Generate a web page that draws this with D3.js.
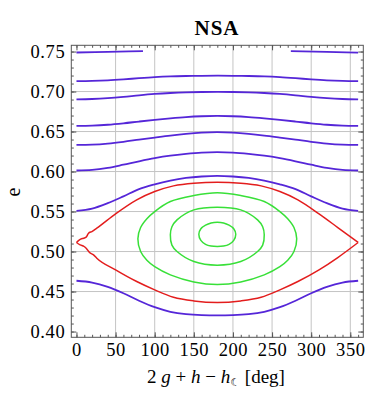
<!DOCTYPE html>
<html>
<head>
<meta charset="utf-8">
<script src="https://cdn.jsdelivr.net/npm/d3@7"></script>
<style>
  body { margin: 0; background: #fff; }
  text { font-family: "Liberation Serif", "DejaVu Serif", serif; fill: #000; }
</style>
</head>
<body>
<div class="graph"></div>
<script>
// Tick values
var xMajor = [0, 50, 100, 150, 200, 250, 300, 350];
var yMajor = [0.40, 0.45, 0.50, 0.55, 0.60, 0.65, 0.70, 0.75];
var xMinor = d3.range(0, 361, 10);
var yMinor = d3.range(40, 76, 1).map(function(d) { return d / 100; });

// Open contours sampled every 20 deg (0..360)
var openDeg = [0, 20, 40, 60, 80, 100, 120, 140, 160, 180, 200, 220, 240, 260, 280, 300, 320, 340, 360];
var purple2 = [0.7130, 0.7133, 0.7140, 0.7152, 0.7167, 0.7180, 0.7189, 0.7194, 0.7197, 0.7198, 0.7197, 0.7194, 0.7189, 0.7180, 0.7167, 0.7152, 0.7140, 0.7133, 0.7130];
var purple3 = [0.6903, 0.6907, 0.6917, 0.6933, 0.6953, 0.6970, 0.6982, 0.6990, 0.6994, 0.6995, 0.6994, 0.6990, 0.6982, 0.6970, 0.6953, 0.6933, 0.6917, 0.6907, 0.6903];
var purple4 = [0.6570, 0.6574, 0.6585, 0.6603, 0.6625, 0.6646, 0.6665, 0.6681, 0.6691, 0.6695, 0.6691, 0.6681, 0.6665, 0.6646, 0.6625, 0.6603, 0.6585, 0.6574, 0.6570];
var purple5 = [0.6333, 0.6337, 0.6350, 0.6372, 0.6399, 0.6425, 0.6450, 0.6471, 0.6486, 0.6492, 0.6486, 0.6471, 0.6450, 0.6425, 0.6399, 0.6372, 0.6350, 0.6337, 0.6333];
var purple6 = [0.6013, 0.6020, 0.6045, 0.6085, 0.6128, 0.6167, 0.6198, 0.6220, 0.6236, 0.6242, 0.6236, 0.6220, 0.6198, 0.6167, 0.6128, 0.6085, 0.6045, 0.6020, 0.6013];
var purple7 = [0.5508, 0.5537, 0.5605, 0.5690, 0.5780, 0.5840, 0.5887, 0.5920, 0.5938, 0.5946, 0.5938, 0.5920, 0.5887, 0.5840, 0.5780, 0.5690, 0.5605, 0.5537, 0.5508];
var purpleLow = [0.4635, 0.4612, 0.4558, 0.4478, 0.4385, 0.4304, 0.4247, 0.4217, 0.4205, 0.4202, 0.4205, 0.4217, 0.4247, 0.4304, 0.4385, 0.4478, 0.4558, 0.4612, 0.4635];

// Top contour, cut by the plot range in the middle
var purpleTopLeft = [[0, 0.7488], [40, 0.7496], [85, 0.7506]];
var purpleTopRight = [[274, 0.7506], [320, 0.7496], [360, 0.7486]];

// Separatrix (red)
var redTop = [[0, 0.5113], [3.8, 0.5146], [9, 0.5167], [12.4, 0.5179], [15.4, 0.5229], [19.7, 0.5250], [26, 0.5292],
  [50, 0.5471], [77, 0.5646], [100, 0.5750], [124, 0.5821], [150, 0.5854], [180, 0.5865], [210, 0.5854],
  [236, 0.5821], [260, 0.5750], [283, 0.5646], [310, 0.5471], [334, 0.5300], [360, 0.5113]];
var redBottom = [[0, 0.5113], [4.7, 0.5083], [9.8, 0.5063], [13.2, 0.5033], [16.7, 0.4988], [21.8, 0.4959], [26, 0.4917],
  [50, 0.4771], [77, 0.4625], [100, 0.4521], [124, 0.4429], [150, 0.4383], [180, 0.4363], [210, 0.4383],
  [236, 0.4429], [260, 0.4521], [283, 0.4625], [310, 0.4771], [334, 0.4925], [360, 0.5113]];

// Librating contours (green), closed
var greenOuter = [[78.5, 0.516], [82, 0.530], [90, 0.541], [100, 0.550], [120, 0.5625], [150, 0.5700], [180, 0.5735],
  [210, 0.5700], [240, 0.5625], [260, 0.550], [270, 0.541], [278, 0.530], [281.5, 0.516], [278, 0.500], [270, 0.489],
  [260, 0.481], [240, 0.4708], [210, 0.4620], [180, 0.4588], [150, 0.4620], [120, 0.4708], [100, 0.481], [90, 0.489], [82, 0.500]];
var greenMid = [[120, 0.521], [122, 0.531], [128.5, 0.5396], [150, 0.5521], [180, 0.5555], [210, 0.5521], [231.5, 0.5396],
  [238, 0.531], [240, 0.521], [238, 0.508], [231.5, 0.500], [210, 0.4875], [180, 0.4830], [150, 0.4875], [128.5, 0.500], [122, 0.508]];
var greenInner = [[156.4, 0.5217], [159, 0.5285], [165, 0.5330], [172, 0.5358], [180, 0.5367], [188, 0.5358], [195, 0.5330],
  [201, 0.5285], [203.6, 0.5217], [201, 0.5140], [195, 0.5090], [188, 0.5068], [180, 0.5062], [172, 0.5068], [165, 0.5090], [159, 0.5140]];

var purple = "#5526d8", red = "#e31d1d", green = "#38e038";

var W = 378, H = 398;
var frame = {left: 71.3, right: 363.3, top: 45.3, bottom: 337.3};

var x = d3.scaleLinear().domain([-6.6, 366.6]).range([frame.left, frame.right]);
var y = d3.scaleLinear().domain([0.3928, 0.7578]).range([frame.bottom, frame.top]);

var svg = d3.select(".graph").append("svg")
    .attr("width", W)
    .attr("height", H);

// Grid
svg.append("g").selectAll("line")
    .data(xMajor.filter(function(d) { return d > 0; }))
    .enter().append("line")
    .attr("x1", function(d) { return x(d); }).attr("x2", function(d) { return x(d); })
    .attr("y1", frame.top).attr("y2", frame.bottom)
    .attr("stroke", "#c4c4c4").attr("stroke-width", 1);
svg.append("g").selectAll("line")
    .data(yMajor.filter(function(d) { return d > 0.41 && d < 0.74; }))
    .enter().append("line")
    .attr("y1", function(d) { return y(d); }).attr("y2", function(d) { return y(d); })
    .attr("x1", frame.left).attr("x2", frame.right)
    .attr("stroke", "#c4c4c4").attr("stroke-width", 1);

// Contours
var plot = svg.append("g");
var openLine = d3.line()
    .x(function(d) { return x(d[0]); })
    .y(function(d) { return y(d[1]); })
    .curve(d3.curveMonotoneX);
var loopLine = d3.line()
    .x(function(d) { return x(d[0]); })
    .y(function(d) { return y(d[1]); })
    .curve(d3.curveCatmullRomClosed);

function zipDeg(vals) {
  return vals.map(function(v, i) { return [openDeg[i], v]; });
}

[purple2, purple3, purple4, purple5, purple6, purple7, purpleLow].forEach(function(vals) {
  plot.append("path").attr("d", openLine(zipDeg(vals)))
      .attr("fill", "none").attr("stroke", purple).attr("stroke-width", 1.8);
});
[purpleTopLeft, purpleTopRight].forEach(function(pts) {
  plot.append("path").attr("d", openLine(pts))
      .attr("fill", "none").attr("stroke", purple).attr("stroke-width", 1.8);
});
[redTop, redBottom].forEach(function(pts) {
  plot.append("path").attr("d", openLine(pts))
      .attr("fill", "none").attr("stroke", red).attr("stroke-width", 1.5);
});
[greenOuter, greenMid, greenInner].forEach(function(pts) {
  plot.append("path").attr("d", loopLine(pts))
      .attr("fill", "none").attr("stroke", green).attr("stroke-width", 1.5);
});

// Frame and ticks
svg.append("rect")
    .attr("x", frame.left).attr("y", frame.top)
    .attr("width", frame.right - frame.left).attr("height", frame.bottom - frame.top)
    .attr("fill", "none").attr("stroke", "#555").attr("stroke-width", 1);

function axis(gen, values, size, fmt, transform) {
  var g = svg.append("g")
      .attr("transform", transform)
      .call(gen.tickValues(values).tickSize(size).tickPadding(6).tickFormat(fmt));
  g.select(".domain").remove();
  g.selectAll(".tick line").attr("stroke", "#555");
  g.selectAll("text")
      .style("font-family", "'Liberation Serif', serif")
      .style("font-size", "18.5px")
      .style("letter-spacing", "0.6px")
      .attr("fill", "#000");
  return g;
}
var none = function() { return ""; };

axis(d3.axisBottom(x), xMajor, -5, d3.format("d"), "translate(0," + frame.bottom + ")");
axis(d3.axisBottom(x), xMinor, -2.5, none, "translate(0," + frame.bottom + ")");
axis(d3.axisTop(x), xMajor, -5, none, "translate(0," + frame.top + ")");
axis(d3.axisTop(x), xMinor, -2.5, none, "translate(0," + frame.top + ")");
axis(d3.axisLeft(y), yMajor, -5, d3.format(".2f"), "translate(" + frame.left + ",0)");
axis(d3.axisLeft(y), yMinor, -2.5, none, "translate(" + frame.left + ",0)");
axis(d3.axisRight(y), yMajor, -5, none, "translate(" + frame.right + ",0)");
axis(d3.axisRight(y), yMinor, -2.5, none, "translate(" + frame.right + ",0)");

// Title and axis labels
svg.append("text")
    .attr("x", 217).attr("y", 35)
    .attr("text-anchor", "middle")
    .style("font-size", "21px").style("font-weight", "bold")
    .style("letter-spacing", "1px")
    .text("NSA");

svg.append("text")
    .attr("transform", "translate(20,192) rotate(-90)")
    .attr("text-anchor", "middle")
    .style("font-size", "20px")
    .text("e");

var xl = svg.append("text")
    .attr("x", 216).attr("y", 383)
    .attr("text-anchor", "middle")
    .style("font-size", "19px");
xl.append("tspan").text("2 ");
xl.append("tspan").style("font-style", "italic").text("g");
xl.append("tspan").text(" + ");
xl.append("tspan").style("font-style", "italic").text("h");
xl.append("tspan").text(" \u2212 ");
xl.append("tspan").style("font-style", "italic").text("h");
xl.append("tspan").attr("dy", 3).style("font-size", "11px").style("font-family", "'DejaVu Sans', sans-serif").text("\u263E");
xl.append("tspan").attr("dy", -3).text(" [deg]");
</script>
</body>
</html>
